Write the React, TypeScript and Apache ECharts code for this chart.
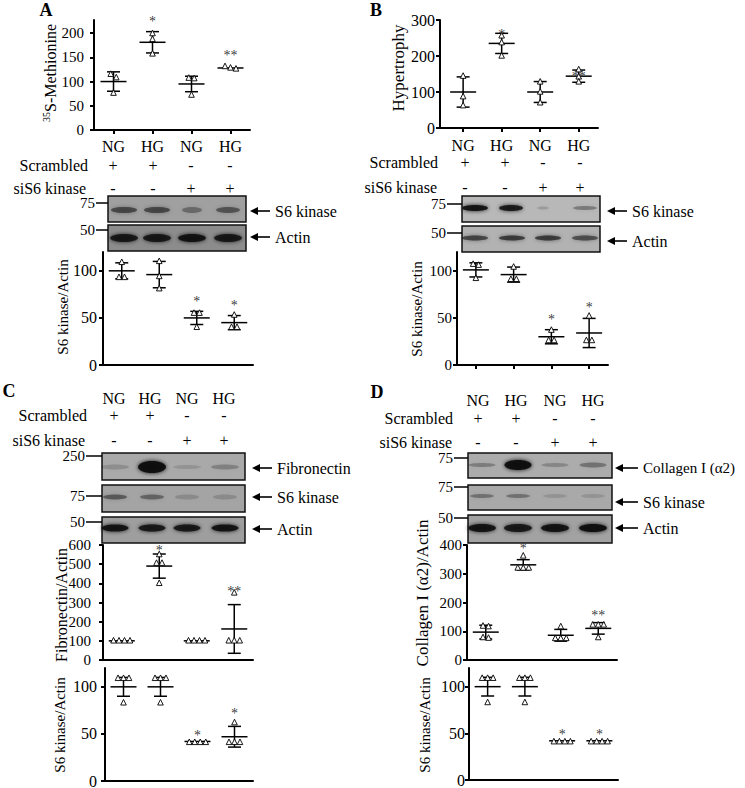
import React, { useEffect, useRef } from 'react';
import * as echarts from 'echarts';

const FONT = "'Liberation Serif', 'Times New Roman', serif";

// ---------- shared labels ----------
const groups = ['NG', 'HG', 'NG', 'HG'];
const scrambledSigns = ['+', '+', '-', '-'];
const siS6Signs = ['-', '-', '+', '+'];

// ---------- Panel A ----------
const aMetPoints = [[115, 108, 76], [199, 187, 157], [107, 106, 72], [131, 128, 126]];
const aMetMean = [100, 181, 95, 128];
const aMetSd = [20, 22, 16, 3];
const aMetStars = ['', '*', '', '**'];
const aMetStarAt = [0, 231, 0, 159];
const aMetTicks = [0, 50, 100, 150, 200];

const aS6Points = [[109, 93, 93], [110, 94, 81], [55, 55, 40], [53, 40, 40]];
const aS6Mean = [100, 96, 50, 45];
const aS6Sd = [8.5, 14, 7, 7.5];
const aS6Stars = ['', '', '*', '*'];
const aS6StarAt = [0, 0, 71, 66];

// ---------- Panel B ----------
const bHypPoints = [[144, 87, 62], [256, 237, 200], [128, 100, 70], [162, 142, 128]];
const bHypMean = [100, 235, 100, 144];
const bHypSd = [42, 28, 29, 17];
const bHypStars = ['', '*', '', '**'];
const bHypStarAt = [0, 269, 0, 152];
const bHypTicks = [0, 100, 200, 300];

const bS6Points = [[107, 106, 92], [104, 91, 91], [37, 26, 26], [52, 26, 26]];
const bS6Mean = [101, 96, 30, 34];
const bS6Sd = [7.5, 8, 7.5, 15.5];
const bS6Stars = ['', '', '*', '*'];
const bS6StarAt = [0, 0, 51, 64];

// ---------- Panel C ----------
const cFibPoints = [[100, 100, 100, 100], [550, 505, 505, 400], [100, 100, 100, 100], [350, 100, 100, 100]];
const cFibMean = [100, 490, 100, 162];
const cFibSd = [0, 63, 0, 127];
const cFibStars = ['', '*', '', '**'];
const cFibStarAt = [0, 589, 0, 374];
const cFibTicks = [0, 100, 200, 300, 400, 500, 600];

const cS6Points = [[109, 109, 109, 83], [109, 109, 109, 83], [41, 41, 41, 41], [62, 41, 41, 41]];
const cS6Mean = [100, 100, 42, 47];
const cS6Sd = [10, 10, 0, 11];
const cS6Stars = ['', '', '*', '*'];
const cS6StarAt = [0, 0, 52, 75];

// ---------- Panel D ----------
const dColPoints = [[118, 116, 78, 76], [362, 320, 320, 320], [116, 75, 75, 75], [122, 122, 122, 78]];
const dColMean = [97, 331, 86, 110];
const dColSd = [24, 18, 20.5, 20];
const dColStars = ['', '*', '', '**'];
const dColStarAt = [0, 397, 0, 164];
const dColTicks = [0, 100, 200, 300, 400];

const dS6Points = [[109, 109, 109, 83], [109, 109, 109, 83], [41, 41, 41, 41], [41, 41, 41, 41]];
const dS6Mean = [100, 100, 42, 42];
const dS6Sd = [10, 10, 0, 0];
const dS6Stars = ['', '', '*', '*'];
const dS6StarAt = [0, 0, 52, 52];

const s6Ticks = [0, 50, 100];

// ---------- blot band darkness per lane ----------
const blotA_S6 = [0.55, 0.55, 0.3, 0.42];
const blotA_Actin = [0.85, 0.85, 0.9, 0.85];
const blotB_S6 = [0.9, 0.85, 0.15, 0.3];
const blotB_Actin = [0.6, 0.65, 0.65, 0.55];
const blotC_Fib = [0.15, 0.95, 0.12, 0.22];
const blotC_S6 = [0.4, 0.35, 0.15, 0.15];
const blotC_Actin = [0.9, 0.85, 0.85, 0.9];
const blotD_Col = [0.25, 0.95, 0.2, 0.3];
const blotD_S6 = [0.3, 0.3, 0.12, 0.12];
const blotD_Actin = [0.9, 0.85, 0.9, 0.95];

type Panel = {
  grid: { left: number; top: number; width: number; height: number };
  yMax: number; ticks: number[]; xMin: number; xMax: number;
  catLabels: boolean; catTicks: boolean; labelMargin: number; catMargin?: number; tickFont: number;
  points: number[][]; means: number[]; sds: number[]; stars: string[]; starAt: number[];
};

const panels: Panel[] = [
  { grid: { left: 94, top: 20, width: 156, height: 110 }, yMax: 227, ticks: aMetTicks, xMin: 0.5, xMax: 4.5, catLabels: true, catTicks: true, labelMargin: 10, catMargin: 8, tickFont: 15, points: aMetPoints, means: aMetMean, sds: aMetSd, stars: aMetStars, starAt: aMetStarAt },
  { grid: { left: 103, top: 252, width: 150, height: 113 }, yMax: 120, ticks: s6Ticks, xMin: 0.5, xMax: 4.5, catLabels: false, catTicks: false, labelMargin: 6, tickFont: 16, points: aS6Points, means: aS6Mean, sds: aS6Sd, stars: aS6Stars, starAt: aS6StarAt },
  { grid: { left: 440, top: 20, width: 158, height: 108 }, yMax: 300, ticks: bHypTicks, xMin: 0.4, xMax: 4.5, catLabels: true, catTicks: true, labelMargin: 5, catMargin: 9, tickFont: 16, points: bHypPoints, means: bHypMean, sds: bHypSd, stars: bHypStars, starAt: bHypStarAt },
  { grid: { left: 457, top: 252, width: 151, height: 113 }, yMax: 120, ticks: s6Ticks, xMin: 0.5, xMax: 4.5, catLabels: false, catTicks: true, labelMargin: 5, tickFont: 15, points: bS6Points, means: bS6Mean, sds: bS6Sd, stars: bS6Stars, starAt: bS6StarAt },
  { grid: { left: 103, top: 545, width: 150, height: 115 }, yMax: 600, ticks: cFibTicks, xMin: 0.5, xMax: 4.5, catLabels: false, catTicks: false, labelMargin: 12, tickFont: 15, points: cFibPoints, means: cFibMean, sds: cFibSd, stars: cFibStars, starAt: cFibStarAt },
  { grid: { left: 105, top: 668, width: 148, height: 113 }, yMax: 120, ticks: s6Ticks, xMin: 0.5, xMax: 4.5, catLabels: false, catTicks: false, labelMargin: 8, tickFont: 16, points: cS6Points, means: cS6Mean, sds: cS6Sd, stars: cS6Stars, starAt: cS6StarAt },
  { grid: { left: 467, top: 545, width: 150, height: 115 }, yMax: 400, ticks: dColTicks, xMin: 0.5, xMax: 4.5, catLabels: false, catTicks: false, labelMargin: 5, tickFont: 15, points: dColPoints, means: dColMean, sds: dColSd, stars: dColStars, starAt: dColStarAt },
  { grid: { left: 469, top: 668, width: 149, height: 112 }, yMax: 120, ticks: s6Ticks, xMin: 0.5, xMax: 4.5, catLabels: false, catTicks: false, labelMargin: 4, tickFont: 16, points: dS6Points, means: dS6Mean, sds: dS6Sd, stars: dS6Stars, starAt: dS6StarAt },
];

const TRI_SPACING = 5.5;

function jitter(values: number[], pxPerUnit: number): number[] {
  const order = values.map((_, i) => i).sort((a, b) => values[b] - values[a]);
  const offsets = new Array(values.length).fill(0);
  let cluster: number[] = [];
  const flush = () => {
    cluster.forEach((id, j) => { offsets[id] = (j - (cluster.length - 1) / 2) * TRI_SPACING; });
    cluster = [];
  };
  order.forEach((id) => {
    if (cluster.length && Math.abs(values[cluster[cluster.length - 1]] - values[id]) * pxPerUnit >= 5) flush();
    cluster.push(id);
  });
  flush();
  return offsets;
}

const tstyle = (text: string, size: number, align: string, bold = false): any => ({
  text, fill: '#000', fontSize: size, fontFamily: FONT, fontWeight: bold ? 'bold' : 'normal',
  align, verticalAlign: 'middle', legacy: false,
});
const txt = (x: number, y: number, text: string, size: number, align = 'center', bold = false): any => ({
  type: 'text', x, y, silent: true, style: tstyle(text, size, align, bold),
});
const vtxt = (x: number, y: number, text: string, size: number): any => ({
  type: 'text', x, y, rotation: Math.PI / 2, silent: true, style: tstyle(text, size, 'center'),
});
const box = (x1: number, y1: number, x2: number, y2: number, fill: string): any => ({
  type: 'rect', silent: true, shape: { x: x1, y: y1, width: x2 - x1, height: y2 - y1 },
  style: { fill, stroke: '#111', lineWidth: 1.5 },
});
const bands = (lanes: number[], cy: number, dark: number[], w: number[] | number, h: number[] | number): any[] =>
  lanes.map((cx, i) => {
    const ww = Array.isArray(w) ? w[i] : w;
    const hh = Array.isArray(h) ? h[i] : h;
    const c = `rgba(15,15,15,${dark[i]})`;
    return {
      type: 'ellipse', silent: true, shape: { cx, cy, rx: ww / 2, ry: hh / 2 },
      style: { fill: c, shadowBlur: 4, shadowColor: c },
    };
  });
const marker = (xEnd: number, xBox: number, y: number, label: string): any[] => [
  txt(xEnd - 2, y, label, 15, 'right'),
  { type: 'line', silent: true, shape: { x1: xEnd - 1, y1: y, x2: xBox, y2: y }, style: { stroke: '#000', lineWidth: 1.5 } },
];
const arrow = (x1: number, x2: number, y: number, label: string, size = 16): any[] => [
  { type: 'polygon', silent: true, shape: { points: [[x1, y], [x1 + 8, y - 4], [x1 + 8, y + 4]] }, style: { fill: '#000' } },
  { type: 'line', silent: true, shape: { x1: x1 + 6, y1: y, x2: x2, y2: y }, style: { stroke: '#000', lineWidth: 1.6 } },
  txt(x2 + 5, y, label, size, 'left'),
];
const signRow = (lanes: number[], y: number, signs: string[]): any[] => lanes.map((x, i) => txt(x, y, signs[i], 16));

function buildGraphics(): any[] {
  const g: any[] = [];
  // panel letters
  g.push(txt(46, 10, 'A', 18, 'center', true), txt(376, 10, 'B', 18, 'center', true),
    txt(9, 391, 'C', 18, 'center', true), txt(377, 392, 'D', 18, 'center', true));

  // ----- A -----
  const lanesA = [113, 153, 191, 230];
  g.push(txt(88, 165, 'Scrambled', 16, 'right'), txt(86, 188, 'siS6 kinase', 16, 'right'));
  g.push(...signRow(lanesA, 165, scrambledSigns), ...signRow(lanesA, 188, siS6Signs));
  g.push(box(108, 196, 246, 222, '#a0a0a0'), box(108, 225, 246, 251, '#8c8c8c'));
  const blA = [124, 157, 192, 228];
  g.push(...bands(blA, 210, blotA_S6, [26, 26, 20, 24], 6), ...bands(blA, 238, blotA_Actin, 28, 8));
  g.push(...marker(97, 108, 203, '75'), ...marker(97, 108, 230, '50'));
  g.push(...arrow(250, 270, 211, 'S6 kinase'), ...arrow(250, 270, 237, 'Actin'));
  g.push({
    type: 'text', x: 50, y: 73, rotation: Math.PI / 2, silent: true,
    style: {
      text: '{s|35}{m|S-Methionine}', align: 'center', verticalAlign: 'middle', legacy: false,
      rich: {
        s: { fontSize: 10, fontFamily: FONT, fill: '#000', verticalAlign: 'top', lineHeight: 18 },
        m: { fontSize: 16, fontFamily: FONT, fill: '#000', lineHeight: 18 },
      },
    },
  });
  g.push(vtxt(63, 307, 'S6 kinase/Actin', 15));

  // ----- B -----
  const lanesB = [465, 505, 543, 580];
  g.push(txt(438, 162, 'Scrambled', 16, 'right'), txt(437, 187, 'siS6 kinase', 16, 'right'));
  g.push(...signRow(lanesB, 162, scrambledSigns), ...signRow(lanesB, 187, siS6Signs));
  g.push(box(462, 196, 600, 222, '#b8b8b8'), box(462, 226, 600, 252, '#b2b2b2'));
  g.push(...bands([475, 511, 543, 585], 208, blotB_S6, [26, 24, 12, 24], [6, 6, 3, 4]));
  g.push(...bands([475, 512, 548, 585], 238, blotB_Actin, 26, 5));
  g.push(...marker(448, 462, 204, '75'), ...marker(448, 462, 233, '50'));
  g.push(...arrow(607, 627, 211, 'S6 kinase'), ...arrow(607, 627, 241, 'Actin'));
  g.push(vtxt(398, 68, 'Hypertrophy', 17));
  g.push(vtxt(417, 309, 'S6 kinase/Actin', 15));

  // ----- C -----
  const lanesC = [114, 150, 187, 224];
  g.push(...lanesC.map((x, i) => txt(x, 398, groups[i], 16)));
  g.push(txt(87, 415, 'Scrambled', 16, 'right'), txt(85, 440, 'siS6 kinase', 16, 'right'));
  g.push(...signRow(lanesC, 415, scrambledSigns), ...signRow(lanesC, 440, siS6Signs));
  g.push(box(102, 453, 245, 480, '#a9a9a9'), box(102, 485, 245, 512, '#a4a4a4'), box(102, 517, 245, 543, '#9e9e9e'));
  const blC = [115, 152, 187, 225];
  g.push(...bands(blC, 467, blotC_Fib, 28, [5, 12, 4, 5]));
  g.push(...bands(blC, 497, blotC_S6, 24, 5));
  g.push(...bands(blC, 528, blotC_Actin, 27, 7));
  g.push(...marker(87, 102, 456, '250'), ...marker(87, 102, 496, '75'), ...marker(87, 102, 522, '50'));
  g.push(...arrow(252, 272, 468, 'Fibronectin'), ...arrow(252, 272, 497, 'S6 kinase'), ...arrow(252, 272, 529, 'Actin'));
  g.push(vtxt(61, 605, 'Fibronectin/Actin', 16));
  g.push(vtxt(60, 725, 'S6 kinase/Actin', 15));

  // ----- D -----
  const lanesD = [478, 516, 555, 593];
  g.push(...lanesD.map((x, i) => txt(x, 400, groups[i], 16)));
  g.push(txt(453, 418, 'Scrambled', 16, 'right'), txt(452, 442, 'siS6 kinase', 16, 'right'));
  g.push(...signRow(lanesD, 418, scrambledSigns), ...signRow(lanesD, 442, siS6Signs));
  g.push(box(468, 453, 612, 478, '#acacac'), box(468, 485, 612, 510, '#a9a9a9'), box(468, 515, 612, 543, '#a2a2a2'));
  const blD = [482, 518, 555, 593];
  g.push(...bands(blD, 465, blotD_Col, 27, [4, 10, 4, 5]));
  g.push(...bands(blD, 496, blotD_S6, 24, 4));
  g.push(...bands(blD, 528, blotD_Actin, 28, 8));
  g.push(...marker(455, 468, 458, '75'), ...marker(455, 468, 487, '75'), ...marker(455, 468, 518, '50'));
  g.push(...arrow(615, 638, 468, 'Collagen I (α2)', 15), ...arrow(615, 638, 502, 'S6 kinase'), ...arrow(615, 638, 528, 'Actin'));
  g.push(vtxt(422, 593, 'Collagen I (α2)/Actin', 17));
  g.push(vtxt(425, 725, 'S6 kinase/Actin', 15));
  return g;
}

function buildOption(): any {
  const grid: any[] = [];
  const xAxis: any[] = [];
  const yAxis: any[] = [];
  const series: any[] = [];
  const axisLine = { show: true, onZero: false, lineStyle: { color: '#000', width: 2 } };
  panels.forEach((p, i) => {
    grid.push({ ...p.grid, outerBoundsMode: 'none', containLabel: false });
    xAxis.push({
      type: 'value', gridIndex: i, min: p.xMin, max: p.xMax, axisLine,
      splitLine: { show: false },
      axisTick: { show: p.catTicks, customValues: [1, 2, 3, 4], length: 4, lineStyle: { color: '#000', width: 2 } },
      axisLabel: {
        show: p.catLabels, customValues: [1, 2, 3, 4], margin: p.catMargin ?? 8,
        formatter: (v: number) => groups[Math.round(v) - 1] ?? '',
        fontSize: 16, fontFamily: FONT, color: '#000',
      },
    });
    yAxis.push({
      type: 'value', gridIndex: i, min: 0, max: p.yMax, axisLine,
      splitLine: { show: false },
      axisTick: { show: true, customValues: p.ticks, length: 4, lineStyle: { color: '#000', width: 2 } },
      axisLabel: { customValues: p.ticks, margin: p.labelMargin, fontSize: p.tickFont, fontFamily: FONT, color: '#000' },
    });
    const pxPerUnit = p.grid.height / p.yMax;
    // error bars
    series.push({
      type: 'custom', xAxisIndex: i, yAxisIndex: i, z: 2, color: '#000', itemStyle: { color: '#000' },
      data: p.means.map((m, k) => [k + 1, m, p.sds[k]]),
      renderItem: (_params: any, api: any) => {
        const x = api.value(0), m = api.value(1), s = api.value(2);
        const c = api.coord([x, m]);
        const t = api.coord([x, m + s]);
        const b = api.coord([x, m - s]);
        const st = { stroke: '#000', lineWidth: 1.5 };
        const children: any[] = [{ type: 'line', shape: { x1: c[0] - 13, y1: c[1], x2: c[0] + 13, y2: c[1] }, style: st }];
        if (b[1] - t[1] > 3) {
          children.push(
            { type: 'line', shape: { x1: c[0], y1: t[1], x2: c[0], y2: b[1] }, style: st },
            { type: 'line', shape: { x1: c[0] - 6.5, y1: t[1], x2: c[0] + 6.5, y2: t[1] }, style: st },
            { type: 'line', shape: { x1: c[0] - 6.5, y1: b[1], x2: c[0] + 6.5, y2: b[1] }, style: st },
          );
        }
        return { type: 'group', children };
      },
    });
    // points
    const pts: number[][] = [];
    p.points.forEach((vals, k) => {
      const off = jitter(vals, pxPerUnit);
      vals.forEach((v, j) => pts.push([k + 1, v, off[j]]));
    });
    series.push({
      type: 'custom', xAxisIndex: i, yAxisIndex: i, z: 3, color: '#000', itemStyle: { color: '#000' },
      data: pts,
      renderItem: (_params: any, api: any) => {
        const c = api.coord([api.value(0), api.value(1)]);
        const x = c[0] + api.value(2), y = c[1];
        return {
          type: 'polygon',
          shape: { points: [[x, y - 3.4], [x - 2.8, y + 2.2], [x + 2.8, y + 2.2]] },
          style: { fill: '#fff', stroke: '#000', lineWidth: 0.9 },
        };
      },
    });
    // significance stars
    const starData: number[][] = [];
    const starText: string[] = [];
    p.stars.forEach((s, k) => { if (s) { starData.push([k + 1, p.starAt[k]]); starText.push(s); } });
    series.push({
      type: 'custom', xAxisIndex: i, yAxisIndex: i, z: 4, color: '#000', itemStyle: { color: '#000' },
      data: starData,
      renderItem: (params: any, api: any) => {
        const c = api.coord([api.value(0), api.value(1)]);
        return {
          type: 'text', x: c[0], y: c[1] + 3,
          style: { ...tstyle(starText[params.dataIndex], 14, 'center'), fill: '#333', opacity: 0.97 },
        };
      },
    });
  });
  return {
    animation: false, backgroundColor: '#fff', color: ['#000'],
    grid, xAxis, yAxis, series, graphic: { elements: buildGraphics() },
  };
}

export default function App() {
  const ref = useRef<HTMLDivElement>(null);
  useEffect(() => {
    if (!ref.current) return;
    const chart = echarts.init(ref.current, null, { renderer: 'svg' });
    chart.setOption(buildOption());
    return () => chart.dispose();
  }, []);
  return <div ref={ref} style={{ position: 'fixed', left: 0, top: 0, width: 745, height: 788, background: '#fff' }} />;
}
